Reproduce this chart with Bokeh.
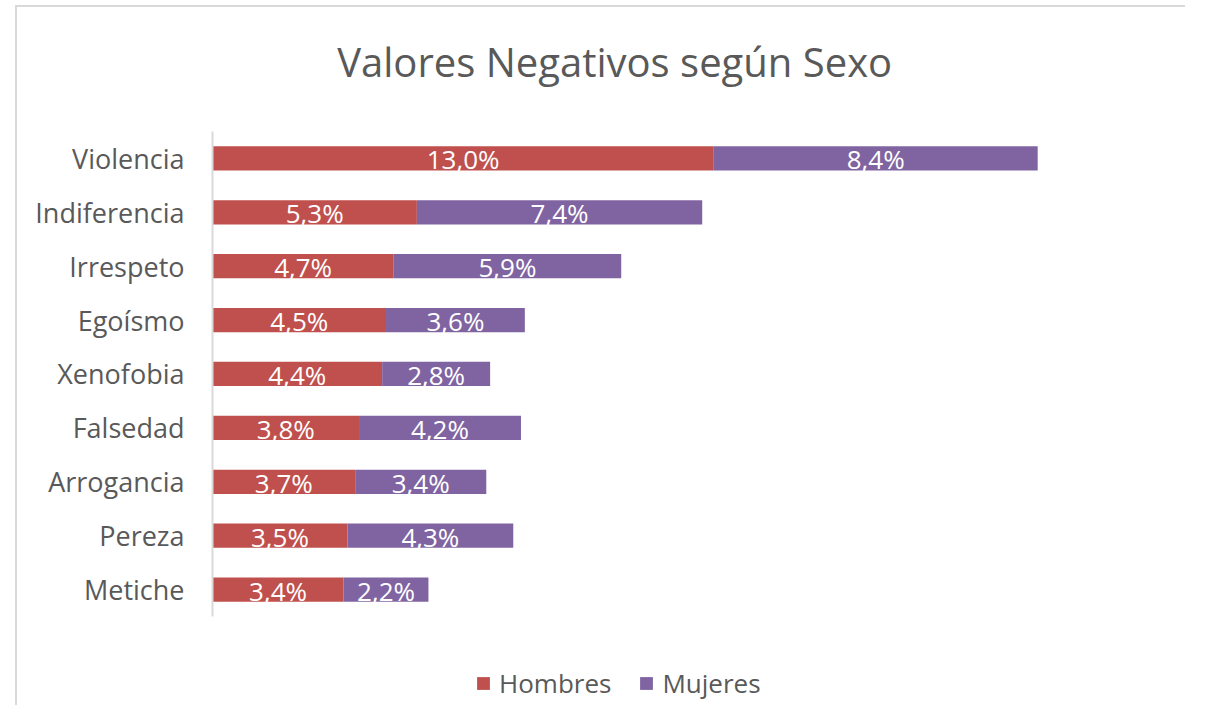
from bokeh.plotting import figure
from bokeh.models import Range1d, ColumnDataSource, LabelSet, Legend, LegendItem, FixedTicker, Label
from bokeh.core.properties import value
from bokeh.embed import file_html
from bokeh.resources import INLINE

categorias = ["Violencia", "Indiferencia", "Irrespeto", "Egoísmo", "Xenofobia",
              "Falsedad", "Arrogancia", "Pereza", "Metiche"]
hombres = [13.0, 5.3, 4.7, 4.5, 4.4, 3.8, 3.7, 3.5, 3.4]
mujeres = [8.4, 7.4, 5.9, 3.6, 2.8, 4.2, 3.4, 4.3, 2.2]
series = ["Hombres", "Mujeres"]
colores = ["#C0504D", "#8064A2"]
titulo = "Valores Negativos según Sexo"

FONT = "Open Sans"
GRAY = "#595959"

def fmt(v):
    return ("%.1f%%" % v).replace(".", ",")

posiciones = list(range(len(categorias)))  # 0 = top row

src = ColumnDataSource(dict(
    pos=posiciones,
    Hombres=hombres,
    Mujeres=mujeres,
    h_mid=[h / 2 for h in hombres],
    m_mid=[h + m / 2 for h, m in zip(hombres, mujeres)],
    h_lab=[fmt(v) for v in hombres],
    m_lab=[fmt(v) for v in mujeres],
))

n = len(categorias)
p = figure(
    width=1170, height=700,
    y_range=Range1d(start=n - 0.5 + 1.596, end=-0.5 - 2.301),
    x_range=Range1d(0, 25),
    output_backend="svg", toolbar_location=None,
    min_border_left=195, min_border_right=11, min_border_top=0, min_border_bottom=5,
)
p.margin = (5, 0, 0, 15)
p.styles = {"border-left": "2px solid #d9d9d9", "border-top": "2px solid #d9d9d9"}
p.outline_line_color = None
p.background_fill_color = "white"
p.border_fill_color = "white"
p.title.visible = False

r = p.hbar_stack(series, y="pos", height=0.45, color=colores, source=src, line_color=None)

p.xaxis.visible = False
p.xgrid.visible = False
p.ygrid.visible = False
yax = p.yaxis[0]
yax.ticker = FixedTicker(ticks=posiciones)
yax.major_label_overrides = {i: c for i, c in zip(posiciones, categorias)}
yax.bounds = (-0.5, n - 0.5)
yax.axis_line_color = "#d9d9d9"
yax.axis_line_width = 2
yax.major_tick_line_color = None
yax.minor_tick_line_color = None
yax.major_label_standoff = 22
yax.major_label_text_font = FONT
yax.major_label_text_font_size = "27px"
yax.major_label_text_color = GRAY

for xcol, tcol in (("h_mid", "h_lab"), ("m_mid", "m_lab")):
    p.add_layout(LabelSet(x=xcol, y="pos", text=tcol, source=src,
                          text_align="center", text_baseline="middle",
                          text_color="white", text_font=value(FONT), text_font_size="26px",
                          y_offset=-1))

p.add_layout(Label(x=10.43, y=-1.80, text=titulo, text_align="center",
                   text_baseline="middle", text_font=FONT, text_font_size="40px",
                   text_color=GRAY))

legend = Legend(items=[LegendItem(label=s, renderers=[rr]) for s, rr in zip(series, r)],
                orientation="horizontal", location=(263, 1),
                glyph_width=16, glyph_height=16, label_standoff=8, spacing=27,
                padding=0, margin=0, border_line_color=None, background_fill_alpha=0,
                label_text_font=FONT, label_text_font_size="26px", label_text_color=GRAY)
p.add_layout(legend, "center")

open("out.html", "w").write(file_html(p, INLINE))
